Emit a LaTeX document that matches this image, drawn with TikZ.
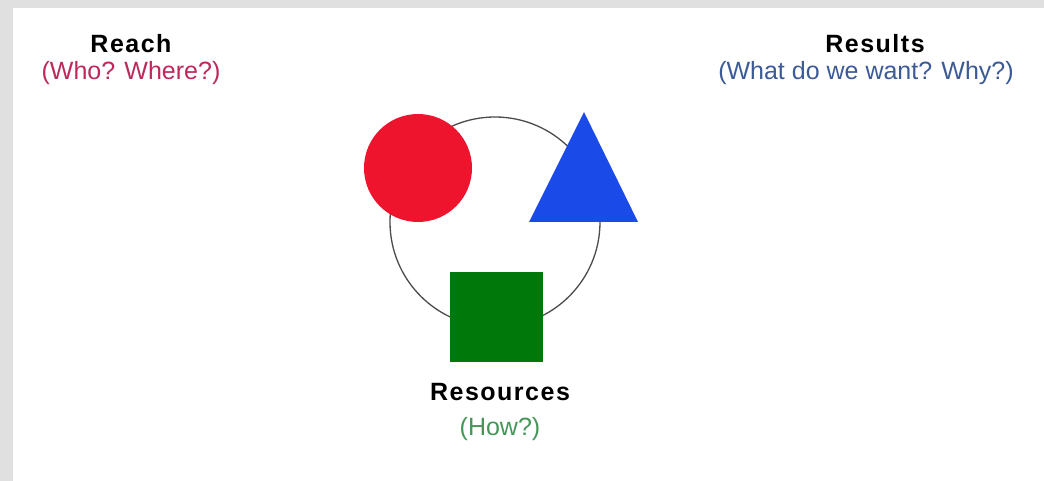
\documentclass[tikz,border=0pt]{standalone}
\usepackage{fontspec}
\setmainfont{Liberation Sans}
\newfontfamily\headfont[LetterSpace=6]{Liberation Sans}
\usetikzlibrary{positioning}
\definecolor{framegray}{RGB}{224,224,224}
\definecolor{reachred}{RGB}{238,20,45}
\definecolor{resultblue}{RGB}{26,75,232}
\definecolor{resourcegreen}{RGB}{0,120,10}
\definecolor{reachtext}{RGB}{190,40,90}
\definecolor{resulttext}{RGB}{60,90,150}
\definecolor{resourcetext}{RGB}{70,150,90}
\tikzset{
    heading/.style={
        inner sep=0pt, font=\headfont\bfseries\fontsize{25}{27}\selectfont
    },
    question/.style={inner sep=0pt, font=\fontsize{25}{27}\selectfont},
    shapebox/.style={inner sep=0pt, outer sep=0pt}
}

\begin{document}
\begin{tikzpicture}[x=1pt, y=-1pt, node distance=8pt]
    \useasboundingbox (0,0) rectangle (1044,481);
    \fill[framegray] (0,0) rectangle (1044,481);
    \fill[white] (13,8) rectangle (1044,481);

    \node[shapebox, circle, draw=black!70, line width=1.3pt, minimum size=210pt] (ring) at (495,222) {};
    \node[shapebox, circle, fill=reachred, minimum size=108pt] (reachdot) at (418,168) {};
    \coordinate (apex) at (584,112);
    \coordinate (baseleft) at (529,222);
    \coordinate (baseright) at (638,222);
    \fill[resultblue] (apex) -- (baseleft) -- (baseright) -- cycle;
    \node[shapebox, rectangle, fill=resourcegreen, minimum width=93pt, minimum height=90pt] (resbox) at (496.5,317) {};

    \node[heading] (reach) at (131,44) {Reach};
    \node[question, text=reachtext, below=of reach] (reachq) {(Who? Where?)};
    \node[heading] (results) at (875,44) {Results};
    \node[question, text=resulttext, below=of results.south, xshift=-9pt, anchor=north] (resultsq) {(What do we want? Why?)};
    \node[heading] (resources) at (500,392) {Resources};
    \node[question, text=resourcetext, below=16pt of resources] (resourcesq) {(How?)};
\end{tikzpicture}
\end{document}
